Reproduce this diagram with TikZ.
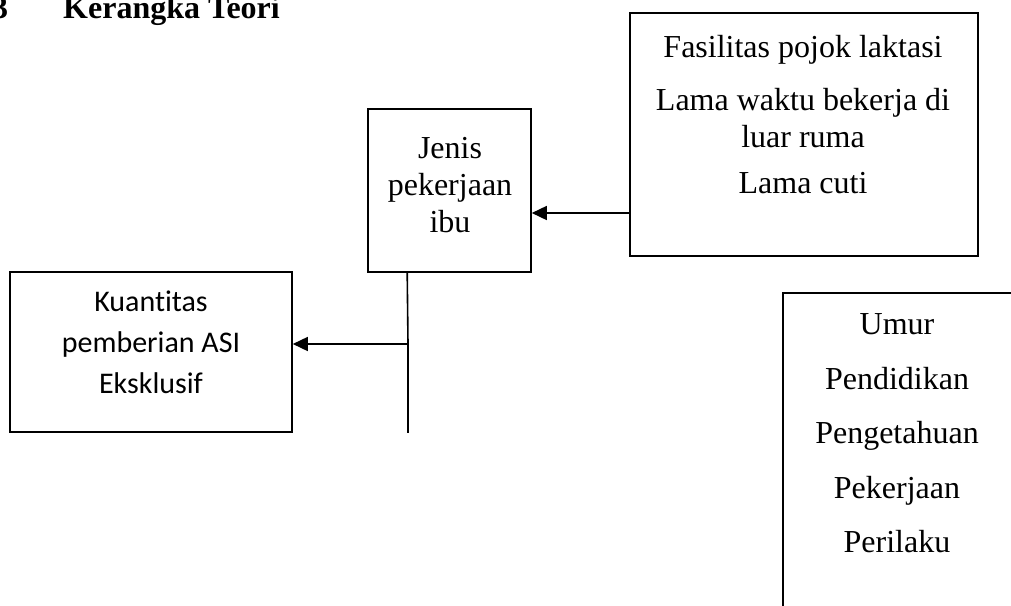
\documentclass[tikz,border=0pt]{standalone}
\usepackage{fontspec}
\setmainfont{Liberation Serif}
\newfontfamily\calib[Ligatures=NoCommon]{Carlito}
\usetikzlibrary{arrows.meta,calc}
\begin{document}
\begin{tikzpicture}[x=1pt,y=-1pt,
  box/.style={draw=black,line width=1.6pt,rectangle,inner sep=0pt},
  tx/.style={anchor=base,inner sep=0pt,font=\fontsize{32}{37}\selectfont},
  sx/.style={anchor=base,inner sep=0pt,font=\calib\fontsize{30}{41}\selectfont},
  ln/.style={line width=1.6pt},
  arr/.style={line width=1.6pt,-{Triangle[length=15pt,width=14pt]}}]
\useasboundingbox (0,0) rectangle (1011,605);
\clip (0,0) rectangle (1011,605);
% title
\node[anchor=base west,inner sep=0pt,font=\bfseries\fontsize{32}{37}\selectfont] (num) at (-8,18) {3};
\node[anchor=base west,inner sep=0pt,font=\bfseries\fontsize{32}{37}\selectfont] (title) at (63,18) {Kerangka Teori};
% boxes
\node[box,minimum width=348pt,minimum height=243pt] (fas) at (804,134.5) {};
\node[box,minimum width=163pt,minimum height=163pt] (jenis) at (449.5,190.5) {};
\node[box,minimum width=282pt,minimum height=160pt] (kuan) at (151,352) {};
\node[box,minimum width=257pt,minimum height=347pt] (right) at (911.5,466.5) {};
% texts
\node[tx] (f1) at (803,57) {Fasilitas pojok laktasi};
\node[tx] (f2) at (803,110) {Lama waktu bekerja di};
\node[tx] (f3) at (803,147) {luar ruma};
\node[tx] (f4) at (803,193) {Lama cuti};
\node[tx] (j1) at (450,158) {Jenis};
\node[tx] (j2) at (450,195) {pekerjaan};
\node[tx] (j3) at (450,232) {ibu};
\node[sx] (k1) at (151,311) {Kuant\kern0pt itas};
\node[sx] (k2) at (151,352) {pemberian ASI};
\node[sx] (k3) at (151,393) {Eksklusif};
\node[tx] (r1) at (897,334) {Umur};
\node[tx] (r2) at (897,389) {Pendidikan};
\node[tx] (r3) at (897,443) {Pengetahuan};
\node[tx] (r4) at (897,498) {Pekerjaan};
\node[tx] (r5) at (897,552) {Perilaku};
% connectors
\coordinate (yArr) at (0,213);
\draw[arr] (fas.west |- yArr) -- (jenis.east |- yArr);
\coordinate (jb) at ([xshift=40pt]jenis.south west);
\coordinate (junc) at (408,344);
\draw[ln] (jb) -- (junc) -- (junc |- kuan.south);
\draw[arr] (junc) -- (kuan.east |- junc);
\end{tikzpicture}
\end{document}
